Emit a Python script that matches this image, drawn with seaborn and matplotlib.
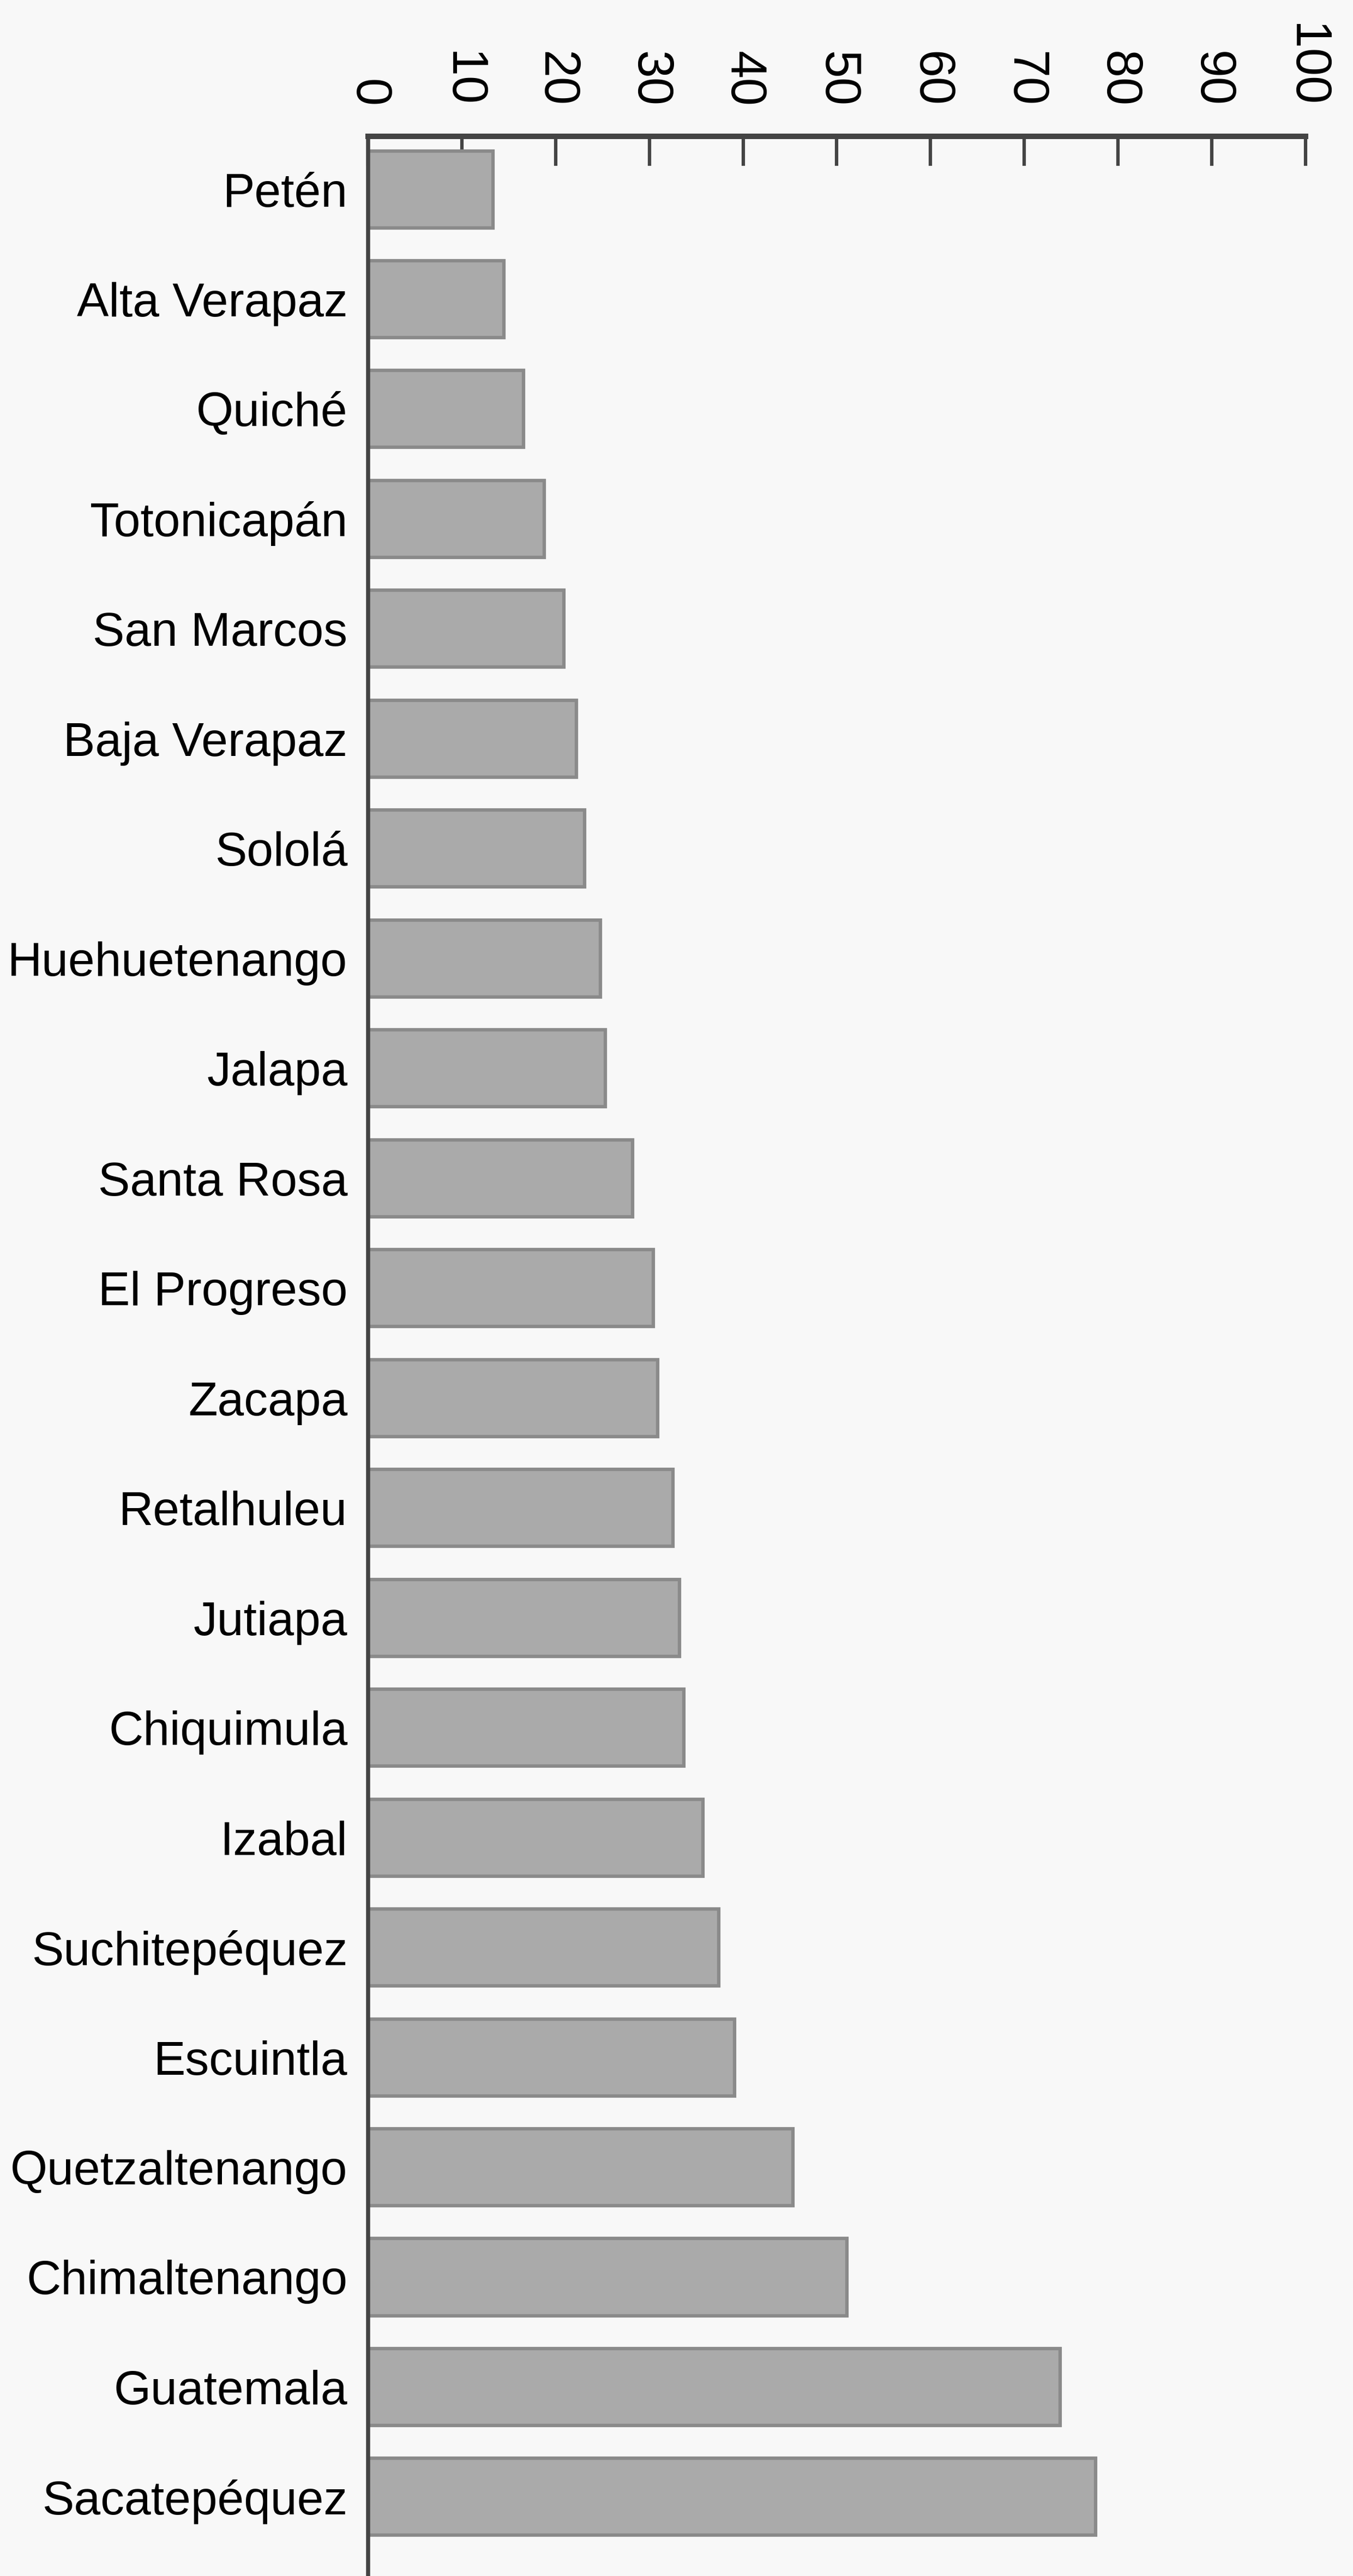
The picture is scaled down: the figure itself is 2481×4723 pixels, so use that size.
import matplotlib
matplotlib.use("Agg")
import matplotlib.pyplot as plt
import seaborn as sns
import pandas as pd
from matplotlib.ticker import FixedLocator

# valores (departamentos de Guatemala)
departamentos = ["Petén", "Alta Verapaz", "Quiché", "Totonicapán", "San Marcos",
                 "Baja Verapaz", "Sololá", "Huehuetenango", "Jalapa", "Santa Rosa",
                 "El Progreso", "Zacapa", "Retalhuleu", "Jutiapa", "Chiquimula",
                 "Izabal", "Suchitepéquez", "Escuintla", "Quetzaltenango",
                 "Chimaltenango", "Guatemala", "Sacatepéquez"]
valores = [13.3, 14.5, 16.6, 18.8, 20.9, 22.2, 23.1, 24.8, 25.3, 28.2, 30.4,
           30.9, 32.5, 33.2, 33.7, 35.7, 37.4, 39.1, 45.3, 51.1, 73.8, 77.6]
x_ticks = [0, 10, 20, 30, 40, 50, 60, 70, 80, 90, 100]

df = pd.DataFrame({"Departamento": departamentos, "Valor": valores})

sns.set_style("white")
plt.rcParams['font.family'] = ['Liberation Sans', 'DejaVu Sans']

fig = plt.figure(figsize=(2481 / 300, 4723 / 300), dpi=300, facecolor="#f8f8f8")
ax = fig.add_axes([0.272, 0.0, 0.693, 0.947])
ax.set_facecolor("#f8f8f8")

sns.barplot(data=df, y="Departamento", x="Valor", orient="h", color="#aaaaaa",
            saturation=1, width=0.7, edgecolor="#8a8a8a", linewidth=1.5, ax=ax)

ax.set_xlim(0, 100)
ax.set_ylim(len(departamentos) - 0.28, -0.48)
ax.set_xlabel("")
ax.set_ylabel("")

# eje x arriba, etiquetas giradas
ax.xaxis.tick_top()
ax.set_xticks(x_ticks)
ax.set_xticklabels([str(t) for t in x_ticks])
ax.tick_params(axis="x", direction="in", length=13, width=1.5, color="#444444",
               labelsize=22, labelrotation=-90, pad=13, labelcolor="black")

# marcas pequeñas entre barras
ax.tick_params(axis="y", which="major", length=0, labelsize=21, pad=9, labelcolor="black")
ax.yaxis.set_minor_locator(FixedLocator([i + 0.5 for i in range(len(departamentos) - 1)]))
ax.tick_params(axis="y", which="minor", direction="in", length=7, width=1.8, color="#555555")

for s in ["right", "bottom"]:
    ax.spines[s].set_visible(False)
ax.spines["top"].set_linewidth(2.4)
ax.spines["top"].set_color("#444444")
ax.spines["left"].set_linewidth(1.8)
ax.spines["left"].set_color("#444444")

fig.savefig("out.png", dpi=300, facecolor=fig.get_facecolor())
